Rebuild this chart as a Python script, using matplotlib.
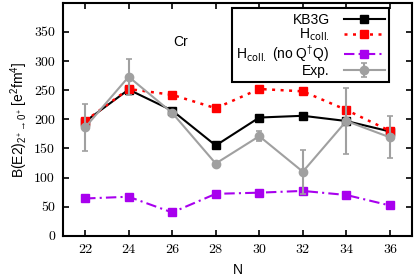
import matplotlib
matplotlib.use("Agg")
import matplotlib.pyplot as plt

plt.rcParams['font.family'] = ['Liberation Sans', 'DejaVu Sans']
plt.rcParams['mathtext.default'] = 'regular'

N = [22, 24, 26, 28, 30, 32, 34, 36]
kb3g = [196, 251, 215, 155, 203, 206, 197, 179]
hcoll = [197, 252, 242, 219, 252, 248, 216, 180]
hcoll_noqq = [64, 67, 40, 72, 74, 77, 70, 52]
exp_val = [186, 273, 211, 124, 171, 110, 197, 169]
exp_err = [40, 31, 0, 0, 9, 38, 56, 36]

xticks = [22, 24, 26, 28, 30, 32, 34, 36]
yticks = [0, 50, 100, 150, 200, 250, 300, 350]

fig = plt.figure(figsize=(4.15, 2.8), dpi=100)
ax = fig.add_axes([0.1526, 0.158, 0.8394, 0.832])

purple = '#a800ee'
gray = '#a0a0a0'

ax.plot(N, kb3g, color='black', lw=1.5, marker='s', ms=6, label='KB3G', zorder=3)
ax.plot(N, hcoll, color='red', lw=1.8, ls=(0, (1.2, 2.2)), marker='s', ms=6,
        label=r'H$_{\rm coll.}$', zorder=4)
ax.plot(N, hcoll_noqq, color=purple, lw=1.5, ls=(0, (5, 2, 1, 2)), marker='s', ms=6,
        label=r'H$_{\rm coll.}$ (no Q$^{\dagger}$Q)', zorder=3)
ax.errorbar(N, exp_val, yerr=exp_err, color=gray, lw=1.5, marker='o', ms=6,
            capsize=2.2, elinewidth=1.5, capthick=1.2, label='Exp.', zorder=5)

ax.set_xlim(21, 37)
ax.set_ylim(0, 400)
ax.set_xticks(xticks)
ax.set_yticks(yticks)
ax.set_xticklabels([str(t) for t in xticks], fontfamily='cmr10', fontsize=10)
ax.set_yticklabels([str(t) for t in yticks], fontfamily='cmr10', fontsize=10)
ax.tick_params(direction='in', top=True, right=True, length=4, width=1.2, pad=6)
for s in ax.spines.values():
    s.set_linewidth(1.5)

ax.set_xlabel('N', fontsize=10, labelpad=5)
ax.set_ylabel(r'B(E2)$_{2^{+}\rightarrow0^{+}}$ [e$^{2}$fm$^{4}$]', fontsize=10, labelpad=3)

fig.text(181 / 415, 1 - 42 / 280, 'Cr', fontsize=10, ha='center', va='center')

leg = ax.legend(loc='upper right', bbox_to_anchor=(0.936, 0.976), markerfirst=False,
                fontsize=10, handlelength=3.0, labelspacing=0.0, borderpad=0.3,
                handletextpad=1.0, fancybox=False, framealpha=1, edgecolor='black',
                borderaxespad=0)
leg.get_frame().set_linewidth(1.5)

fig.savefig('out.png', dpi=100)
